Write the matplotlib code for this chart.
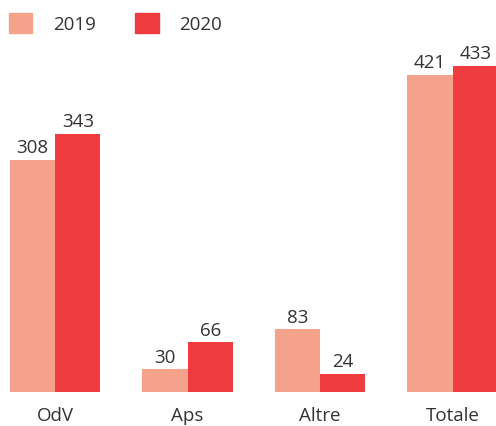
import numpy as np
import matplotlib.pyplot as plt
from matplotlib.patches import Patch

categories = ["OdV", "Aps", "Altre", "Totale"]
years = ["2019", "2020"]
values_2019 = [308, 30, 83, 421]
values_2020 = [343, 66, 24, 433]

c2019 = "#F5A28C"
c2020 = "#EF3C3F"
txt = "#333333"

plt.rcParams['font.family'] = ['Open Sans', 'DejaVu Sans']
fs = 13.5

fig = plt.figure(figsize=(4.96, 4.27), dpi=100)
ax = fig.add_axes([0, 34 / 427, 1, 348 / 427])

x = np.arange(len(categories))
w = 0.343
b1 = ax.bar(x - w / 2, values_2019, w, color=c2019)
b2 = ax.bar(x + w / 2, values_2020, w, color=c2020)

for bars, vals in ((b1, values_2019), (b2, values_2020)):
    for b, v in zip(bars, vals):
        ax.text(b.get_x() + b.get_width() / 2, v + 5, str(v),
                ha='center', va='bottom', fontsize=fs, color=txt)

ax.set_xlim(-0.415, 3.328)
ax.set_ylim(0, 462)
ax.set_xticks(x)
ax.set_xticklabels(categories, fontsize=fs, color=txt)
ax.tick_params(axis='x', length=0, pad=10)
ax.set_yticks([])
for s in ax.spines.values():
    s.set_visible(False)

handles = [Patch(color=c2019), Patch(color=c2020)]
fig.legend(handles, years, loc='upper left', bbox_to_anchor=(-0.014, 1.004),
           ncol=2, frameon=False, fontsize=fs, labelcolor=txt,
           handlelength=1.25, handleheight=1.25, handletextpad=1.1,
           columnspacing=2.1, borderaxespad=0.45)

fig.savefig("out.png", dpi=100)
